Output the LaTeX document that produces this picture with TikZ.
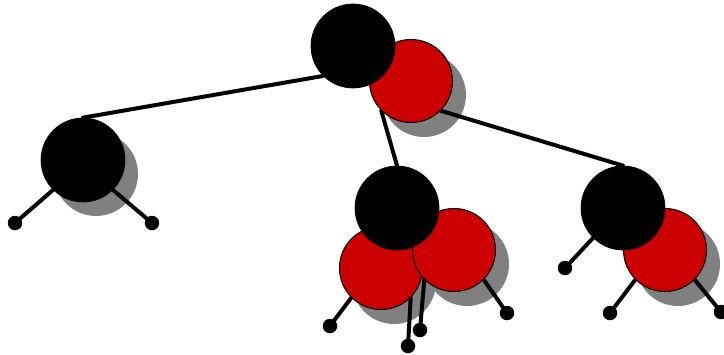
\documentclass[tikz,border=0pt]{standalone}
\usetikzlibrary{backgrounds}
\pgfdeclarelayer{shadows}
\pgfsetlayers{shadows,background,main}

\definecolor{rbred}{RGB}{204,0,0}
\definecolor{rbgray}{RGB}{128,128,128}

\begin{document}
\begin{tikzpicture}[
  x=0.02cm, y=-0.02cm,
  blk/.style={circle, fill=black, draw=black, minimum size=1.68cm, inner sep=0pt},
  rnode/.style={circle, fill=rbred, draw=black, line width=0.6pt, minimum size=1.66cm, inner sep=0pt},
  nil/.style={circle, fill=black, minimum size=0.29cm, inner sep=0pt},
  link/.style={line width=0.08cm, line cap=round},
  shadowfill/.style={fill=rbgray},
]
\useasboundingbox (0,0) rectangle (724,355);

% --- red nodes first, black ones on top ---
\node[rnode] (rootR) at (411,81) {};
\node[rnode] (midRL) at (381,268) {};
\node[rnode] (midRR) at (454,250) {};
\node[rnode] (rightR) at (665,250) {};

\node[blk] (rootB) at (353,46) {};
\node[blk] (leftB) at (83,160) {};
\node[blk] (midB) at (397,208) {};
\node[blk] (rightB) at (623,208) {};

% --- nil leaves ---
\node[nil] (n1) at (15,223) {};
\node[nil] (n2) at (152,223) {};
\node[nil] (n3) at (330,326) {};
\node[nil] (n4) at (408,346) {};
\node[nil] (n5) at (420,330) {};
\node[nil] (n6) at (507,313) {};
\node[nil] (n7) at (565,268) {};
\node[nil] (n8) at (610,313) {};
\node[nil] (n9) at (721,312) {};

% --- links (behind the circles) ---
\begin{scope}[on background layer]
  \draw[link] (rootB.225) -- (leftB.north);
  \draw[link] (rootR.225) -- (midB.north);
  \draw[link] (rootR.-45) -- (rightB.north);
  \draw[link] (leftB.225) -- (n1);
  \draw[link] (leftB.-45) -- (n2);
  \draw[link] (midRL.225) -- (n3);
  \draw[link] (midRL.-45) -- (n4);
  \draw[link] (midRR.225) -- (n5);
  \draw[link] (midRR.-45) -- (n6);
  \draw[link] (rightB.225) -- (n7);
  \draw[link] (rightR.225) -- (n8);
  \draw[link] (rightR.-45) -- (n9);
\end{scope}

% --- drop shadows ---
\begin{pgfonlayer}{shadows}
  \foreach \n in {leftB, rootR, midRL, midRR, rightR}
    \fill[shadowfill] ([shift={(13,14)}]\n.center) circle (0.84cm);
\end{pgfonlayer}

\end{tikzpicture}
\end{document}
